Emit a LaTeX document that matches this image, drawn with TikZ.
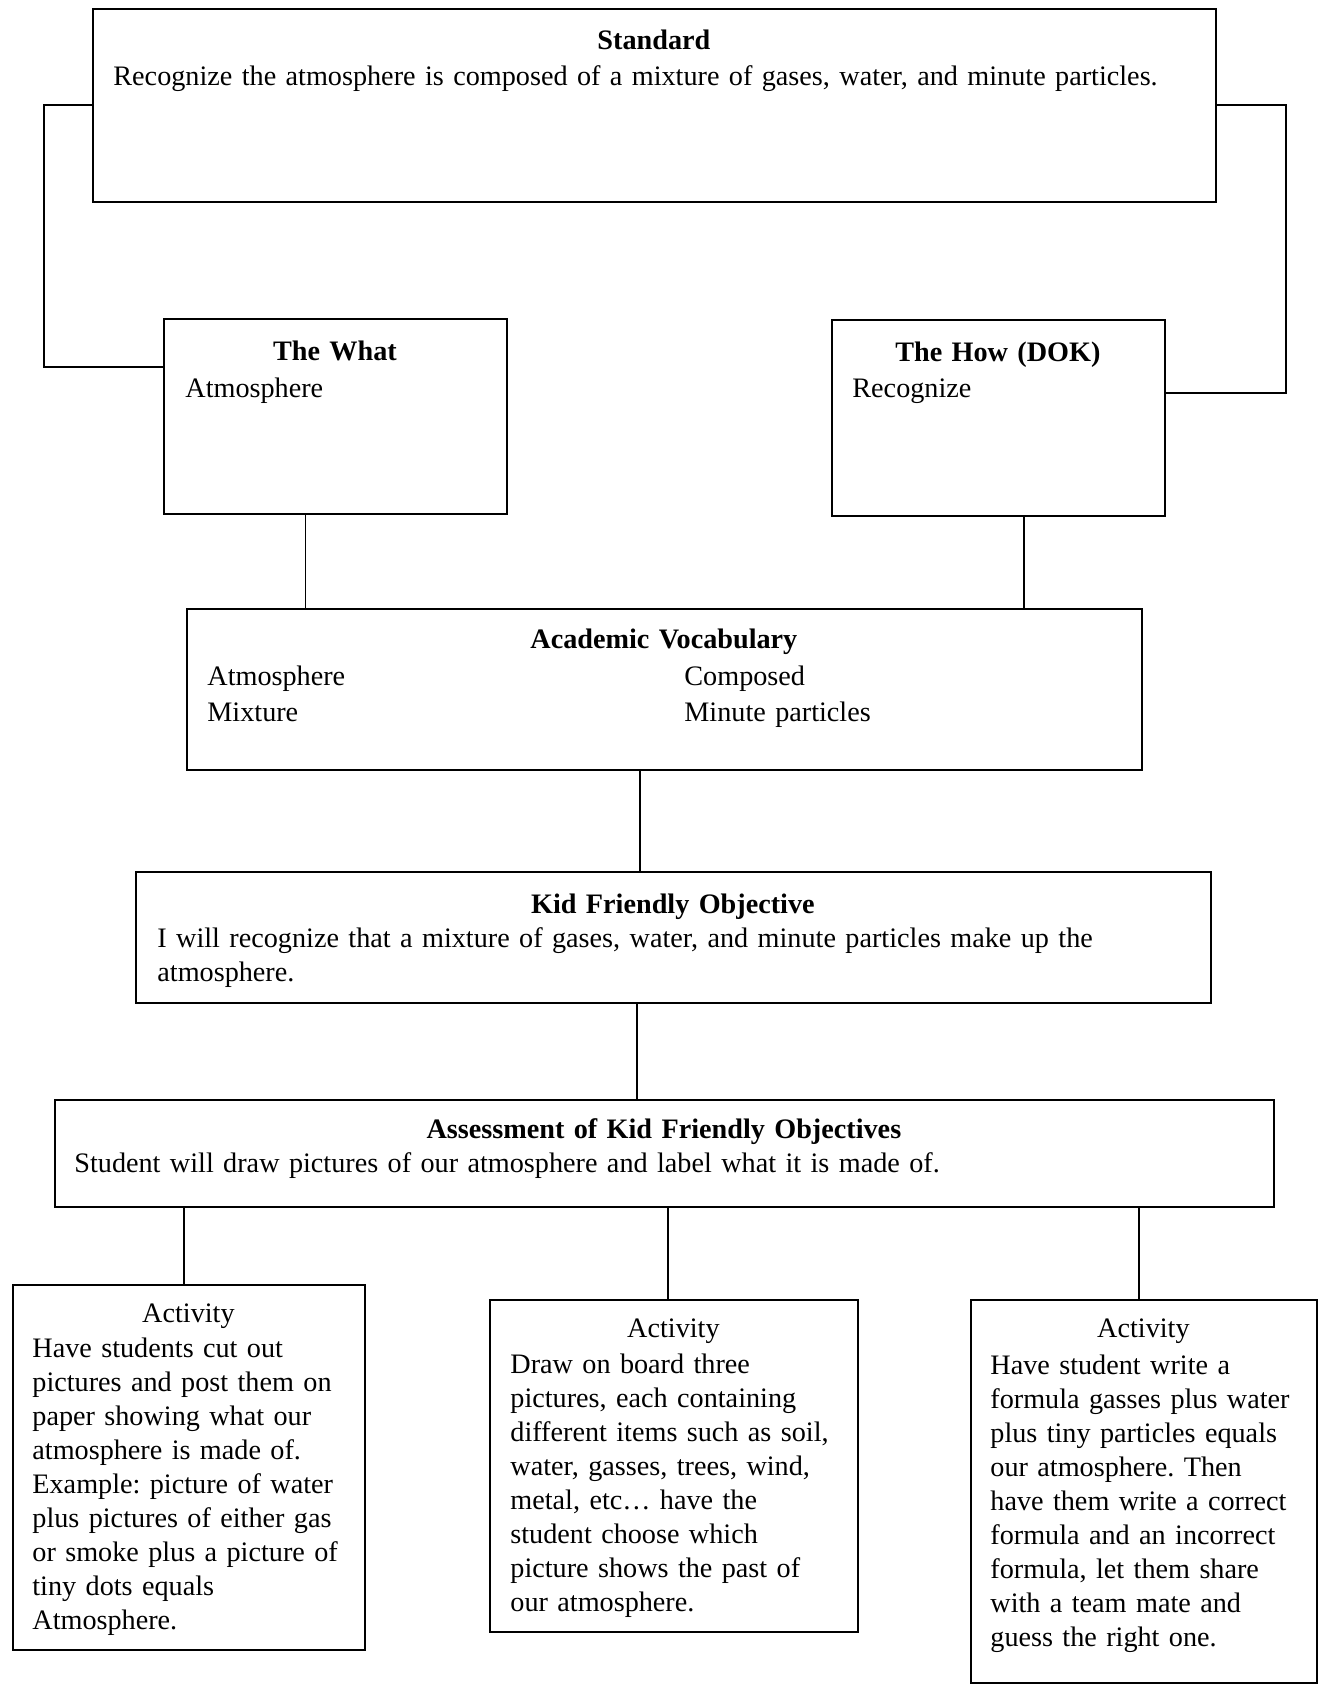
\documentclass[tikz,border=0pt]{standalone}
\usepackage{fontspec}
\setmainfont{Liberation Serif}
\usetikzlibrary{positioning,calc}
\frenchspacing

\begin{document}
\begin{tikzpicture}[x=0.5pt,y=-0.5pt,
  box/.style={draw,line width=1pt,anchor=north west,inner sep=0pt},
  txt/.style={anchor=base west,align=left,inner sep=0pt,font=\fontsize{14.1}{17}\selectfont},
  link/.style={line width=0.6pt},
  elbow/.style={line width=1pt}]
\useasboundingbox (0,0) rectangle (1318,1685);

% boxes
\node[box,minimum width=561.5pt,minimum height=96.5pt] (std) at (92,8) {};
\node[box,minimum width=171.5pt,minimum height=97.5pt] (what) at (163,318) {};
\node[box,minimum width=166.5pt,minimum height=98pt] (how) at (831,319) {};
\node[box,minimum width=477.5pt,minimum height=80.5pt] (voc) at (186,608) {};
\node[box,minimum width=537.5pt,minimum height=65.5pt] (kid) at (135,871) {};
\node[box,minimum width=609.5pt,minimum height=53.5pt] (assess) at (54,1099) {};
\node[box,minimum width=176pt,minimum height=182.5pt] (act1) at (12,1284) {};
\node[box,minimum width=184pt,minimum height=166pt] (act2) at (489,1299) {};
\node[box,minimum width=173pt,minimum height=191.5pt] (act3) at (970,1299) {};

% texts
\node[txt,text width=540.5pt] (stdtext) at ([shift={(10.5pt,-20.75pt)}]std.north west)
  {{\centering\bfseries Standard\par}\vspace{1.25pt}%
   Recognize the atmosphere is composed of a mixture of gases, water, and minute particles.};
\node[txt,text width=149.5pt] (whattext) at ([shift={(11pt,-21pt)}]what.north west)
  {{\centering\bfseries The What\par}\vspace{1.5pt}Atmosphere};
\node[txt,text width=145.5pt] (howtext) at ([shift={(10.5pt,-21pt)}]how.north west)
  {{\centering\bfseries The How (DOK)\par}\vspace{1pt}Recognize};
\node[txt,text width=456.5pt] (voctext) at ([shift={(10.5pt,-20pt)}]voc.north west)
  {{\centering\bfseries Academic Vocabulary\par}\vspace{1.5pt}%
   \makebox[238.5pt][l]{Atmosphere}Composed\\[1pt]
   \makebox[238.5pt][l]{Mixture}Minute particles};
\node[txt,text width=515.5pt] (kidtext) at ([shift={(11pt,-21pt)}]kid.north west)
  {{\centering\bfseries Kid Friendly Objective\par}%
   I will recognize that a mixture of gases, water, and minute particles make up the\\
   atmosphere.};
\node[txt,text width=589.5pt] (assesstext) at ([shift={(10pt,-19.5pt)}]assess.north west)
  {{\centering\bfseries Assessment of Kid Friendly Objectives\par}%
   Student will draw pictures of our atmosphere and label what it is made of.};
\node[txt,text width=156pt] (act1text) at ([shift={(10pt,-19pt)}]act1.north west)
  {{\centering Activity\par}\vspace{0.5pt}%
   Have students cut out\\ pictures and post them on\\ paper showing what our\\
   atmosphere is made of.\\ Example: picture of water\\ plus pictures of either gas\\
   or smoke plus a picture of\\ tiny dots equals\\ Atmosphere.};
\node[txt,text width=163pt] (act2text) at ([shift={(10.5pt,-19pt)}]act2.north west)
  {{\centering Activity\par}\vspace{1pt}%
   Draw on board three\\ pictures, each containing\\ different items such as soil,\\
   water, gasses, trees, wind,\\ metal, etc… have the\\ student choose which\\
   picture shows the past of\\ our atmosphere.};
\node[txt,text width=153pt] (act3text) at ([shift={(10pt,-19pt)}]act3.north west)
  {{\centering Activity\par}\vspace{1.5pt}%
   Have student write a\\ formula gasses plus water\\ plus tiny particles equals\\
   our atmosphere. Then\\ have them write a correct\\ formula and an incorrect\\
   formula, let them share\\ with a team mate and\\ guess the right one.};

% connectors
\draw[elbow] (std.west) -- ++(-48,0) |- ([yshift=-24.5pt]what.north west);
\draw[elbow] (std.east) -- ++(69,0) |- ([yshift=-37pt]how.north east);
\draw[link] ([xshift=-15pt]what.south) -- ([xshift=-15pt]what.south |- voc.north);
\draw[link] ([xshift=12.75pt]how.south) -- ([xshift=12.75pt]how.south |- voc.north);
\draw[link] ([xshift=-12.25pt]voc.south) -- ([xshift=-12.25pt]voc.south |- kid.north);
\draw[link] ([xshift=-18.25pt]kid.south) -- ([xshift=-18.25pt]kid.south |- assess.north);
\draw[link] ([xshift=-2.5pt]act1.north) -- ([xshift=-2.5pt]act1.north |- assess.south);
\draw[link] ([xshift=-3pt]act2.north) -- ([xshift=-3pt]act2.north |- assess.south);
\draw[link] ([xshift=-2.5pt]act3.north) -- ([xshift=-2.5pt]act3.north |- assess.south);
\end{tikzpicture}
\end{document}
